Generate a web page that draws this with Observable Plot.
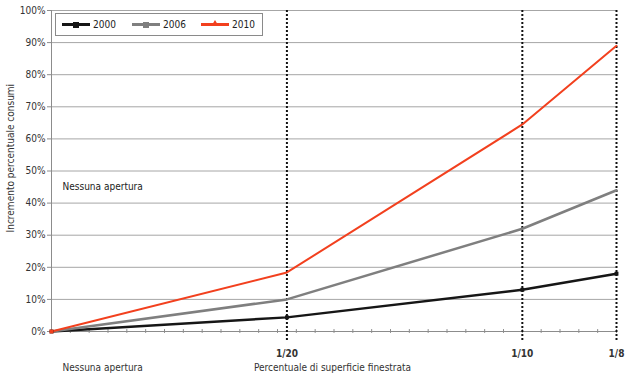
<!DOCTYPE html>
<html><head><meta charset="utf-8">
<script src="https://cdn.jsdelivr.net/npm/d3@7"></script>
<script src="https://cdn.jsdelivr.net/npm/@observablehq/plot@0.6"></script>
<style>
body{margin:0;background:#fff;}
#wrap{position:relative;width:630px;height:380px;font-family:"DejaVu Sans Condensed","DejaVu Sans",sans-serif;}
#legend{position:absolute;left:55px;top:13px;width:208px;height:23px;border:1px solid #8a8a8a;background:#fff;box-sizing:border-box;}
.li{position:absolute;top:0;height:21px;display:flex;align-items:center;font-size:10px;color:#222;}
.ln{position:relative;width:28px;height:3px;margin-right:3px;}
.mk{position:absolute;left:11px;top:-1.5px;width:6px;height:6px;}
</style></head>
<body><div id="wrap"><div id="chart"></div><div id="legend"></div></div>
<script>
const categories = ["Nessuna apertura", "1/20", "1/10", "1/8"];
const fractions = [0, 1/20, 1/10, 1/8];
const years = ["2000", "2006", "2010"];
const values2000 = [0, 4.4, 13, 18];
const values2006 = [0, 10, 32, 44];
const values2010 = [0, 18.4, 64.5, 89];
const yTicks = [0,10,20,30,40,50,60,70,80,90,100];
const colors = {"2000":"#161616","2006":"#7f7f7f","2010":"#f2401e"};

// axis layout: the chart's category axis is not proportional; 1/8 sits at 12 "units"
const unit = d3.scaleLinear().domain([0, 0.05, 0.1, 0.125]).range([0, 5, 10, 12]);
const seriesValues = {"2000":values2000,"2006":values2006,"2010":values2010};
const data = [];
for (const yr of years) seriesValues[yr].forEach((v,i)=>data.push({year:yr, x:unit(fractions[i]), y:v, cat:categories[i]}));

const L=51, R=616, T=10, B=331;
const minor = d3.range(31).map(i => i*0.4);

const plot = Plot.plot({
  width:630, height:380,
  marginLeft:L, marginRight:630-R, marginTop:T, marginBottom:380-B,
  x:{domain:[0,12], axis:null},
  y:{domain:[0,100], axis:null},
  style:{fontFamily:"DejaVu Sans Condensed, DejaVu Sans, sans-serif", background:"#fff"},
  marks:[
    Plot.ruleY(yTicks.filter(d=>d>0), {stroke:"#a6a6a6", strokeWidth:1}),
    Plot.ruleY([0], {stroke:"#8c8c8c", strokeWidth:1}),
    Plot.ruleX([0], {stroke:"#8c8c8c", strokeWidth:1}),
    Plot.ruleY(yTicks, {y:d=>d, x1:-0.085, x2:0, stroke:"#8c8c8c"}),
    Plot.ruleX(minor, {x:d=>d, y1:-0.6, y2:0.6, stroke:"#8c8c8c"}),
    Plot.text(yTicks, {x:0, y:d=>d, text:d=>d+"%", textAnchor:"end", dx:-6, fontSize:10, fill:"#333"}),
    Plot.ruleX(fractions.slice(1), {x:d=>unit(d), stroke:"#111", strokeWidth:2, strokeDasharray:"2,2", insetBottom:-9}),
    Plot.line(data, {x:"x", y:"y", z:"year", stroke:d=>colors[d.year], strokeWidth:d=>d.year==="2010"?2:2.5}),
    Plot.dot(data.filter(d=>d.year==="2000"), {x:"x", y:"y", symbol:"square", r:2.2, fill:colors["2000"]}),
    Plot.dot(data.filter(d=>d.year==="2010" && d.x===0), {x:"x", y:"y", symbol:"square", r:2.2, fill:colors["2010"]}),
    Plot.text(categories.slice(1).map((c,i)=>({c, x:unit(fractions[i+1])})), {x:"x", y:0, text:"c", dy:22, fontSize:10, fontWeight:"bold", fill:"#333"}),
    Plot.text([categories[0]], {x:0, y:0, text:d=>d, dx:11, dy:36, textAnchor:"start", fontSize:10, fill:"#333"}),
    Plot.text(["Percentuale di superficie finestrata"], {x:unit(0.05), y:0, text:d=>d, dx:-33, dy:36, textAnchor:"start", fontSize:10, fill:"#333"}),
    Plot.text([categories[0]], {x:0, y:45, text:d=>d, dx:11, textAnchor:"start", fontSize:10, fill:"#222"}),
    Plot.text(["Incremento percentuale consumi"], {x:0, y:54, text:d=>d, rotate:-90, dx:-41, fontSize:10, fill:"#333"})
  ]
});
document.getElementById("chart").appendChild(plot);

const lg = document.getElementById("legend");
const lpos = [6, 76, 145];
years.forEach((yr,i)=>{
  const it = document.createElement("div");
  it.className="li"; it.style.left=lpos[i]+"px";
  const ln = document.createElement("div"); ln.className="ln"; ln.style.background=colors[yr];
  const mk = document.createElement("div"); mk.className="mk"; mk.style.background=colors[yr];
  if (yr==="2010") { mk.style.width="0"; mk.style.height="0"; mk.style.background="none"; mk.style.borderLeft="3px solid transparent"; mk.style.borderRight="3px solid transparent"; mk.style.borderBottom="5px solid "+colors[yr]; mk.style.top="-3px"; }
  ln.appendChild(mk);
  it.appendChild(ln);
  const t = document.createElement("span"); t.textContent=yr; it.appendChild(t);
  lg.appendChild(it);
});
</script></body></html>
